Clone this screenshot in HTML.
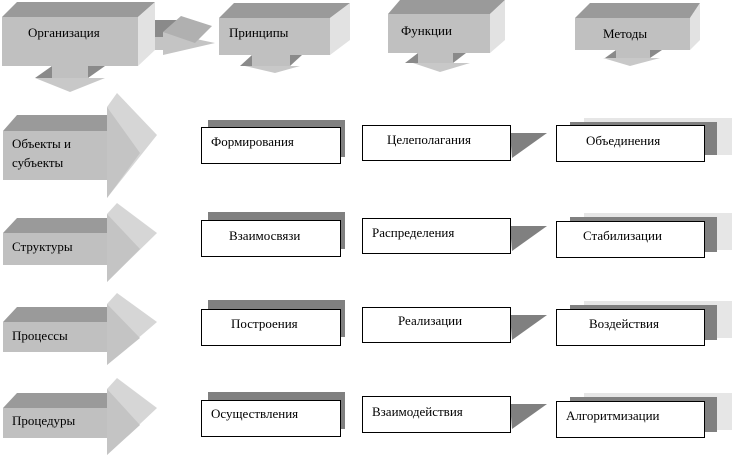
<!DOCTYPE html>
<html><head><meta charset="utf-8"><style>
html,body{margin:0;padding:0;background:#fff;}
svg{display:block;}
text{font-family:"Liberation Serif",serif;font-size:13px;fill:#000;}
</style></head><body>
<svg width="732" height="459" viewBox="0 0 732 459" xmlns="http://www.w3.org/2000/svg">
<!-- Организация -->
<polygon points="52,66 88,66 88,78 52,78" fill="#c0c0c0"/>
<polygon points="52,66 52,78 35,78" fill="#8a8a8a"/>
<polygon points="88,66 105,66 88,78" fill="#8a8a8a"/>
<polygon points="35,78 105,78 70,92" fill="#c8c8c8"/>
<polygon points="2,17 17,2 155,2 138,17" fill="#9a9a9a"/>
<polygon points="138,17 155,2 155,50 138,66" fill="#e2e2e2"/>
<rect x="2" y="17" width="136" height="49" fill="#c0c0c0"/>
<text x="28" y="37">Организация</text>
<!-- connector arrow -->
<polygon points="155,20 178,20 178,37 155,37" fill="#8a8a8a"/>
<polygon points="155,37 163,37 163,32 215,43 163,55 163,50 155,50" fill="#c4c4c4"/>
<polygon points="163,32 181,16 212,26 195,43" fill="#b0b0b0"/>
<!-- Принципы -->
<polygon points="252,55 290,55 290,66 252,66" fill="#c0c0c0"/>
<polygon points="252,55 252,66 240,66" fill="#8a8a8a"/>
<polygon points="290,55 302,55 290,66" fill="#8a8a8a"/>
<polygon points="245,66 300,66 275,73" fill="#c8c8c8"/>
<polygon points="219,18 234,3 350,3 330,18" fill="#9a9a9a"/>
<polygon points="330,18 350,3 350,40 330,55" fill="#e2e2e2"/>
<rect x="219" y="18" width="111" height="37" fill="#c0c0c0"/>
<text x="229" y="37">Принципы</text>
<!-- Функции -->
<polygon points="418,53 453,53 453,63 418,63" fill="#c0c0c0"/>
<polygon points="418,53 418,63 405,63" fill="#8a8a8a"/>
<polygon points="453,53 466,53 453,63" fill="#8a8a8a"/>
<polygon points="413,63 470,63 440,72" fill="#c8c8c8"/>
<polygon points="388,14 400,0 505,0 490,14" fill="#9a9a9a"/>
<polygon points="490,14 505,0 505,40 490,53" fill="#e2e2e2"/>
<rect x="388" y="14" width="102" height="39" fill="#c0c0c0"/>
<text x="401" y="35">Функции</text>
<!-- Методы -->
<polygon points="616,50 650,50 650,58 616,58" fill="#c0c0c0"/>
<polygon points="616,50 616,58 605,58" fill="#8a8a8a"/>
<polygon points="650,50 662,50 650,58" fill="#8a8a8a"/>
<polygon points="603,58 660,58 630,66" fill="#c8c8c8"/>
<polygon points="575,18 590,3 700,3 690,18" fill="#9a9a9a"/>
<polygon points="690,18 700,3 700,40 690,50" fill="#e2e2e2"/>
<rect x="575" y="18" width="115" height="32" fill="#c0c0c0"/>
<text x="603" y="38">Методы</text>

<!-- Row arrows -->
<g>
<polygon points="3,131 17,115 107,115 107,131" fill="#9a9a9a"/>
<rect x="3" y="131" width="104" height="49" fill="#c0c0c0"/>
<polygon points="107,107 117,93 157,135 107,198" fill="#d6d6d6"/>
<polygon points="107,107 140,153 107,198" fill="#c4c4c4"/>
<text x="12" y="148">Объекты и</text><text x="12" y="167">субъекты</text>
</g>
<g>
<polygon points="3,233 17,218 107,218 107,233" fill="#9a9a9a"/>
<rect x="3" y="233" width="104" height="32" fill="#c0c0c0"/>
<polygon points="107,214 117,203 157,233 107,282" fill="#d6d6d6"/>
<polygon points="107,214 140,249 107,282" fill="#c4c4c4"/>
<text x="12" y="251">Структуры</text>
</g>
<g>
<polygon points="3,322 17,307 107,307 107,322" fill="#9a9a9a"/>
<rect x="3" y="322" width="104" height="30" fill="#c0c0c0"/>
<polygon points="107,304 117,293 157,322 107,365" fill="#d6d6d6"/>
<polygon points="107,304 140,338 107,365" fill="#c4c4c4"/>
<text x="12" y="340">Процессы</text>
</g>
<g>
<polygon points="3,408 17,393 107,393 107,408" fill="#9a9a9a"/>
<rect x="3" y="408" width="104" height="30" fill="#c0c0c0"/>
<polygon points="107,389 117,378 157,408 107,455" fill="#d6d6d6"/>
<polygon points="107,389 140,425 107,455" fill="#c4c4c4"/>
<text x="12" y="425">Процедуры</text>
</g>

<!-- Column 1 -->
<rect x="208" y="120" width="137" height="37" fill="#808080"/>
<rect x="201.5" y="127.5" width="139" height="36" fill="#fff" stroke="#000"/>
<text x="211" y="146">Формирования</text>
<rect x="208" y="212" width="137" height="37" fill="#808080"/>
<rect x="201.5" y="220.5" width="139" height="36" fill="#fff" stroke="#000"/>
<text x="229" y="240">Взаимосвязи</text>
<rect x="208" y="300" width="137" height="37" fill="#808080"/>
<rect x="201.5" y="309.5" width="139" height="36" fill="#fff" stroke="#000"/>
<text x="231" y="328">Построения</text>
<rect x="208" y="392" width="137" height="37" fill="#808080"/>
<rect x="201.5" y="400.5" width="139" height="36" fill="#fff" stroke="#000"/>
<text x="211" y="418">Осуществления</text>

<!-- Column 2 -->
<polygon points="510,133 547,133 512,158" fill="#808080"/>
<rect x="362.5" y="125.5" width="148" height="35" fill="#fff" stroke="#000"/>
<text x="387" y="144">Целеполагания</text>
<polygon points="510,226 547,226 512,251" fill="#808080"/>
<rect x="362.5" y="218.5" width="148" height="35" fill="#fff" stroke="#000"/>
<text x="372" y="237">Распределения</text>
<polygon points="510,315 547,315 512,340" fill="#808080"/>
<rect x="362.5" y="307.5" width="148" height="35" fill="#fff" stroke="#000"/>
<text x="398" y="325">Реализации</text>
<polygon points="510,404 547,404 512,429" fill="#808080"/>
<rect x="362.5" y="396.5" width="148" height="36" fill="#fff" stroke="#000"/>
<text x="372" y="416">Взаимодействия</text>

<!-- Column 3 -->
<rect x="584" y="118" width="148" height="37" fill="#e6e6e6"/>
<rect x="570" y="122" width="147" height="33" fill="#808080"/>
<rect x="556.5" y="125.5" width="148" height="36" fill="#fff" stroke="#000"/>
<text x="586" y="145">Объединения</text>
<rect x="584" y="213" width="148" height="37" fill="#e6e6e6"/>
<rect x="570" y="217" width="147" height="35" fill="#808080"/>
<rect x="556.5" y="221.5" width="148" height="36" fill="#fff" stroke="#000"/>
<text x="583" y="240">Стабилизации</text>
<rect x="584" y="301" width="148" height="37" fill="#e6e6e6"/>
<rect x="570" y="305" width="147" height="35" fill="#808080"/>
<rect x="556.5" y="309.5" width="148" height="36" fill="#fff" stroke="#000"/>
<text x="589" y="328">Воздействия</text>
<rect x="584" y="393" width="148" height="37" fill="#e6e6e6"/>
<rect x="570" y="397" width="147" height="35" fill="#808080"/>
<rect x="556.5" y="401.5" width="148" height="36" fill="#fff" stroke="#000"/>
<text x="566" y="420">Алгоритмизации</text>
</svg>
</body></html>
